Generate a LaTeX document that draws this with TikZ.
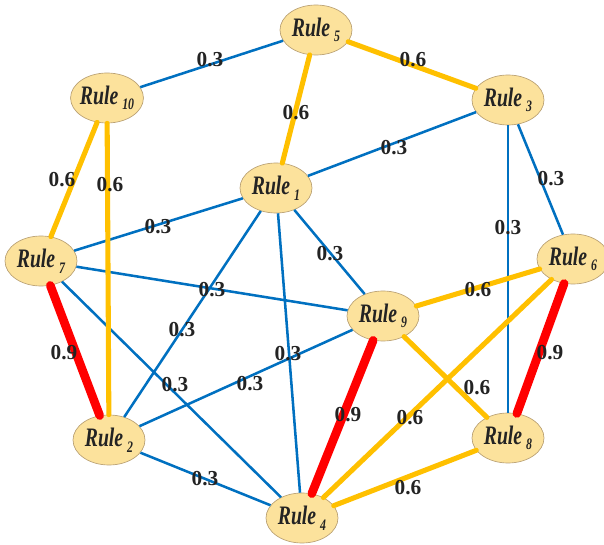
\documentclass[tikz,border=0pt]{standalone}
\usepackage{fontspec}
\usetikzlibrary{shapes.geometric}
\setmainfont{Liberation Serif}
\newfontfamily\rulefont[FakeStretch=0.74]{Liberation Serif}
\definecolor{nodefill}{RGB}{252,226,156}
\definecolor{nodeedge}{RGB}{185,160,115}
\definecolor{txt}{RGB}{35,35,35}
\definecolor{eblue}{RGB}{0,112,192}
\definecolor{eorange}{RGB}{255,192,0}
\definecolor{ered}{RGB}{255,0,0}
\newcommand{\rl}[1]{{\rulefont\bfseries\itshape\fontsize{20}{20}\selectfont Rule\kern3pt\raisebox{-4.2pt}{\fontsize{12}{12}\selectfont #1}}}
\tikzset{
  rulenode/.style={ellipse, draw=nodeedge, line width=0.5pt, fill=nodefill, text=txt,
    minimum width=54pt, minimum height=37.5pt, inner sep=-1pt},
  wlow/.style={draw=eblue, line width=1.9pt},
  wmid/.style={draw=eorange, line width=3.8pt, line cap=round},
  whigh/.style={draw=ered, line width=6.5pt, line cap=round},
  wlab/.style={text=txt, font=\bfseries\fontsize{16}{16}\selectfont, inner sep=0pt}
}
\begin{document}
\begin{tikzpicture}[x=0.75pt, y=-0.75pt]
\useasboundingbox (0,0) rectangle (604,545);
% nodes
\node[rulenode] (r5)  at (316,30)  {\rl{5}};
\node[rulenode] (r10) at (107,98)  {\rl{10}};
\node[rulenode] (r3)  at (508,100) {\rl{3}};
\node[rulenode] (r1)  at (276,188) {\rl{1}};
\node[rulenode] (r7)  at (41,261)  {\rl{7}};
\node[rulenode] (r6)  at (573,259) {\rl{6}};
\node[rulenode] (r9)  at (383,316) {\rl{9}};
\node[rulenode] (r2)  at (109,440) {\rl{2}};
\node[rulenode] (r8)  at (508,438) {\rl{8}};
\node[rulenode] (r4)  at (302,518) {\rl{4}};
% blue edges (0.3)
\draw[wlow] (r5) -- (r10);
\draw[wlow] (r3) -- (r1);
\draw[wlow] (r3) -- (r6);
\draw[wlow] (r3) -- (r8);
\draw[wlow] (r1) -- (r7);
\draw[wlow] (r1) -- (r9);
\draw[wlow] (r1) -- (r2);
\draw[wlow] (r1) -- (r4);
\draw[wlow] (r7) -- (r9);
\draw[wlow] (r7) -- (r4);
\draw[wlow] (r9) -- (r2);
\draw[wlow] (r2) -- (r4);
% orange edges (0.6)
\draw[wmid] (r5) -- (r3);
\draw[wmid] (r5) -- (r1);
\draw[wmid] (r10) -- (r7);
\draw[wmid] (r10) -- (r2);
\draw[wmid] (r6) -- (r9);
\draw[wmid] (r6) -- (r4);
\draw[wmid] (r9) -- (r8);
\draw[wmid] (r8) -- (r4);
% red edges (0.9)
\draw[whigh] (r7) -- (r2);
\draw[whigh] (r6) -- (r8);
\draw[whigh] (r9) -- (r4);
% weight labels
\node[wlab] (l1)  at (210,60)  {0.3};
\node[wlab] (l2)  at (413,60)  {0.6};
\node[wlab] (l3)  at (296,113) {0.6};
\node[wlab] (l4)  at (394,148) {0.3};
\node[wlab] (l5)  at (551,179) {0.3};
\node[wlab] (l6)  at (508,228) {0.3};
\node[wlab] (l7)  at (62,180)  {0.6};
\node[wlab] (l8)  at (110,185) {0.6};
\node[wlab] (l9)  at (158,227) {0.3};
\node[wlab] (l10) at (330,254) {0.3};
\node[wlab] (l11) at (212,290) {0.3};
\node[wlab] (l12) at (182,330) {0.3};
\node[wlab] (l13) at (288,354) {0.3};
\node[wlab] (l14) at (478,290) {0.6};
\node[wlab] (l15) at (64,353)  {0.9};
\node[wlab] (l16) at (550,353) {0.9};
\node[wlab] (l17) at (175,385) {0.3};
\node[wlab] (l18) at (250,384) {0.3};
\node[wlab] (l19) at (477,388) {0.6};
\node[wlab] (l20) at (348,415) {0.9};
\node[wlab] (l21) at (410,418) {0.6};
\node[wlab] (l22) at (205,479) {0.3};
\node[wlab] (l23) at (408,488) {0.6};
\end{tikzpicture}
\end{document}
